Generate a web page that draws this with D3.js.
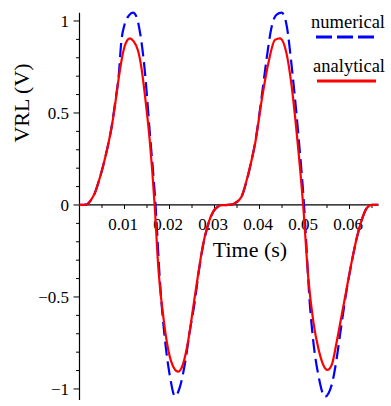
<!DOCTYPE html>
<html>
<head>
<meta charset="utf-8">
<script src="https://cdn.jsdelivr.net/npm/d3@7"></script>
<style>
html,body{margin:0;padding:0;background:#fff;}
svg{display:block;}
text{font-family:"Liberation Serif","Times New Roman",serif;fill:#000;}
</style>
</head>
<body>
<svg id="chart" width="391" height="406"></svg>
<script>
// ---- data ----
const tNumerical = [0,0.0015,0.0025,0.0034,0.0043,0.0052,0.0062,0.0071,0.0080,0.0087,0.0093,0.0100,0.0110,0.0119,0.0127,0.0135,0.01449,0.0156,0.0169,0.0179,0.0190,0.02011,0.02122,0.0223,0.02344,0.02456,0.02567,0.0264,0.02751,0.02862,0.02973,0.0308,0.0318,0.0330,0.0340,0.03456,0.0360,0.0372,0.0383,0.0390,0.0405,0.0415,0.0427,0.0438,0.04493,0.0460,0.04716,0.0486,0.0499,0.0512,0.05196,0.05307,0.05456,0.05604,0.05716,0.05789,0.05938,0.06049,0.0616,0.06271,0.06382,0.06493,0.0664];
const vNumerical = [0,0.002,0.025,0.064,0.13,0.208,0.31,0.42,0.57,0.70,0.89,0.98,1.03,1.045,1.02,0.93,0.734,0.40,0,-0.426,-0.734,-0.933,-1.04,-0.99,-0.86,-0.679,-0.516,-0.38,-0.215,-0.105,-0.037,-0.008,-0.001,0,0.003,0.01,0.045,0.136,0.25,0.335,0.59,0.78,0.969,1.035,1.045,0.98,0.752,0.39,0,-0.543,-0.743,-0.924,-1.042,-0.978,-0.833,-0.707,-0.46,-0.31,-0.181,-0.082,-0.018,0,0];

const tAnalytical = [0,0.0015,0.0025,0.0034,0.0043,0.0052,0.0062,0.0071,0.0080,0.0086,0.0093,0.0100,0.0106,0.01115,0.0120,0.0130,0.0138,0.01449,0.0156,0.0167,0.0175,0.01862,0.01973,0.02084,0.02196,0.02307,0.02418,0.02529,0.0264,0.02751,0.02862,0.02973,0.0308,0.0318,0.0330,0.0340,0.03456,0.0360,0.0372,0.0383,0.0390,0.0405,0.04196,0.04344,0.04456,0.0460,0.04716,0.04827,0.0497,0.05085,0.05196,0.05307,0.05418,0.05507,0.05604,0.05716,0.05827,0.05938,0.06049,0.0616,0.06271,0.06382,0.06493,0.0664];
const vAnalytical = [0,0.002,0.025,0.064,0.13,0.208,0.31,0.417,0.56,0.67,0.78,0.86,0.895,0.906,0.89,0.84,0.74,0.607,0.353,0,-0.335,-0.607,-0.788,-0.879,-0.906,-0.86,-0.734,-0.553,-0.371,-0.208,-0.1,-0.035,-0.008,-0.001,0,0.003,0.01,0.045,0.14,0.25,0.33,0.571,0.77,0.897,0.906,0.824,0.643,0.39,0,-0.399,-0.634,-0.779,-0.87,-0.897,-0.87,-0.743,-0.598,-0.453,-0.308,-0.181,-0.082,-0.018,0,0];

const xTicksMajor = [0.01,0.02,0.03,0.04,0.05,0.06];
const xTicksMinor = [0.005,0.015,0.025,0.035,0.045,0.055,0.065];
const yTicksMajor = [-1,-0.5,0,0.5,1];
const yTicksMinor = [-0.9,-0.8,-0.7,-0.6,-0.4,-0.3,-0.2,-0.1,0.1,0.2,0.3,0.4,0.6,0.7,0.8,0.9];
const seriesNames = ["numerical","analytical"];
const xTitle = "Time (s)";
const yTitle = "VRL (V)";

// ---- scales ----
const svg = d3.select("#chart");
const x = d3.scaleLinear().domain([0,0.0664]).range([79.5,378.3]);
const y = d3.scaleLinear().domain([-1.06,1.045]).range([400,12.7]);

const fmtX = d => d3.format(".2f")(d);
const fmtY = d => (d < 0 ? "\u2212" : "") + String(Math.abs(d));

// ---- axes ----
const gx = svg.append("g").attr("transform",`translate(0,${y(0)})`);
gx.append("line").attr("x1",x.range()[0]).attr("x2",x.range()[1]).attr("stroke","#000").attr("stroke-width",1.2);
gx.selectAll(".mj").data(xTicksMajor).join("line")
  .attr("x1",d=>x(d)).attr("x2",d=>x(d)).attr("y1",0).attr("y2",4).attr("stroke","#000");
gx.selectAll(".mn").data(xTicksMinor).join("line")
  .attr("x1",d=>x(d)).attr("x2",d=>x(d)).attr("y1",0).attr("y2",3).attr("stroke","#000");
gx.selectAll("text").data(xTicksMajor).join("text")
  .attr("x",d=>x(d)-1.5).attr("y",25).attr("text-anchor","middle")
  .style("font-size","17px").text(fmtX);

const gy = svg.append("g").attr("transform",`translate(${x(0)},0)`);
gy.append("line").attr("y1",y.range()[0]).attr("y2",y.range()[1]).attr("stroke","#000").attr("stroke-width",1.2);
gy.selectAll(".mj").data(yTicksMajor).join("line")
  .attr("y1",d=>y(d)).attr("y2",d=>y(d)).attr("x1",-6).attr("x2",0).attr("stroke","#000");
gy.selectAll(".mn").data(yTicksMinor).join("line")
  .attr("y1",d=>y(d)).attr("y2",d=>y(d)).attr("x1",-3.5).attr("x2",0).attr("stroke","#000");
gy.selectAll("text").data(yTicksMajor).join("text")
  .attr("x",-10.5).attr("y",d=>y(d)+6).attr("text-anchor","end")
  .style("font-size","17px").text(fmtY);

// ---- titles ----
svg.append("text").attr("x",250).attr("y",257).attr("text-anchor","middle")
  .style("font-size","22px").text(xTitle);
svg.append("text").attr("transform","translate(29,103) rotate(-90)").attr("text-anchor","middle")
  .style("font-size","22px").text(yTitle);

// ---- lines ----
const line = d3.line().x(d=>x(d[0])).y(d=>y(d[1])).curve(d3.curveMonotoneX);
const numData = tNumerical.map((t,i)=>[t,vNumerical[i]]);
const anaData = tAnalytical.map((t,i)=>[t,vAnalytical[i]]);

svg.append("path").datum(numData).attr("d",line).attr("fill","none")
  .attr("stroke","#0000ff").attr("stroke-width",2.2).attr("stroke-dasharray","14,6");
svg.append("path").datum(anaData).attr("d",line).attr("fill","none")
  .attr("stroke","#ff0000").attr("stroke-width",2.2);

// ---- legend ----
const lg = svg.append("g");
lg.append("text").attr("x",385).attr("y",28).attr("text-anchor","end")
  .style("font-size","18.5px").text(seriesNames[0]);
lg.append("line").attr("x1",316).attr("x2",376).attr("y1",37).attr("y2",37)
  .attr("stroke","#0000ff").attr("stroke-width",3).attr("stroke-dasharray","16,5");
lg.append("text").attr("x",385).attr("y",72).attr("text-anchor","end")
  .style("font-size","18.5px").text(seriesNames[1]);
lg.append("line").attr("x1",317).attr("x2",376).attr("y1",81).attr("y2",81)
  .attr("stroke","#ff0000").attr("stroke-width",3);
</script>
</body>
</html>
